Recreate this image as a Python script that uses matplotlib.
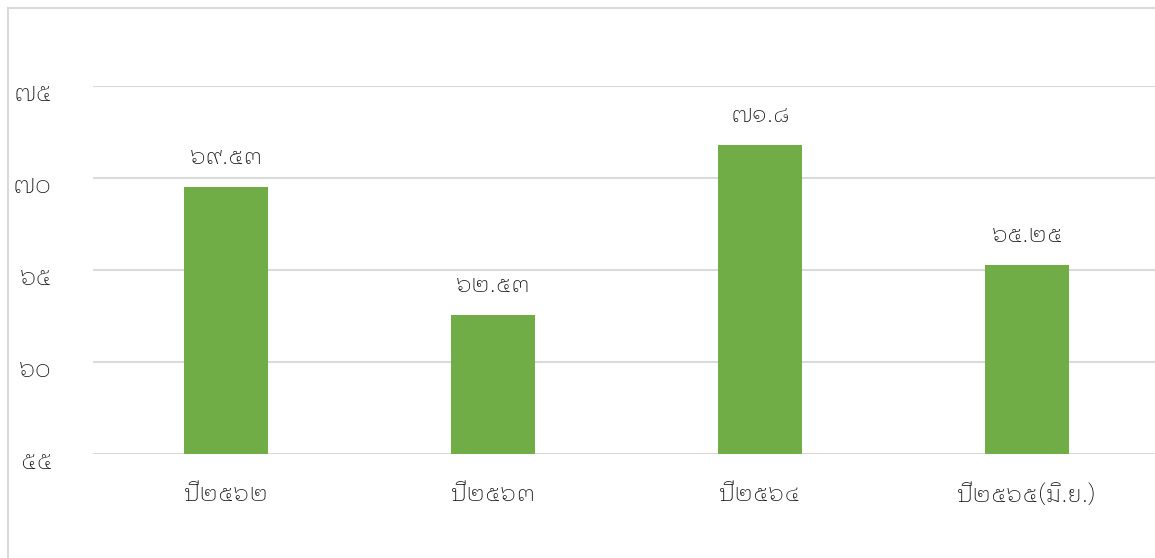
import matplotlib
matplotlib.use("Agg")
import matplotlib.pyplot as plt
from matplotlib.lines import Line2D
import matplotlib.transforms as mtransforms

THAI_DIGITS = str.maketrans("0123456789", "๐๑๒๓๔๕๖๗๘๙")

categories = ["ปี๒๕๖๒", "ปี๒๕๖๓", "ปี๒๕๖๔", "ปี๒๕๖๕(มิ.ย.)"]
values = [69.53, 62.53, 71.8, 65.25]
value_labels = ["๖๙.๕๓", "๖๒.๕๓", "๗๑.๘", "๖๕.๒๕"]
y_ticks = [55, 60, 65, 70, 75]

FONT = ["IBM Plex Sans Thai Looped", "DejaVu Sans"]
FS = 17.5
WEIGHT = "light"
TEXT_COLOR = "#0d0d0d"
BAR_COLOR = "#70ad47"
GRID_COLOR = "#d9d9d9"
FRAME_COLOR = "#d9d9d9"

W, H = 1155, 558
fig = plt.figure(figsize=(W / 100, H / 100), dpi=100)

# chart frame: left and top edges
fig.add_artist(Line2D([7.5 / W, 7.5 / W], [0, 1 - 8 / H], transform=fig.transFigure,
                      color=FRAME_COLOR, lw=1.5))
fig.add_artist(Line2D([7.5 / W, 1], [1 - 8 / H, 1 - 8 / H], transform=fig.transFigure,
                      color=FRAME_COLOR, lw=1.5))

ax = fig.add_axes([92.5 / W, 1 - 454 / H, 1068 / W, 368 / H])
x = list(range(len(categories)))
bars = ax.bar(x, values, width=0.315, color=BAR_COLOR, zorder=3)

ax.set_xlim(-0.5, len(categories) - 0.5)
ax.set_ylim(55, 75)
ax.set_yticks(y_ticks)
ax.set_yticklabels([str(v).translate(THAI_DIGITS) for v in y_ticks], family=FONT,
                   fontsize=FS + 0.5, weight=WEIGHT, color=TEXT_COLOR)
ax.set_xticks(x)
ax.set_xticklabels(categories, family=FONT, fontsize=FS, weight=WEIGHT, color=TEXT_COLOR)
ax.tick_params(axis="y", length=0, pad=29)
ax.tick_params(axis="x", length=0, pad=21)

shift = mtransforms.ScaledTranslation(0, -6 / 100, fig.dpi_scale_trans)
for t in ax.get_yticklabels():
    t.set_transform(t.get_transform() + shift)

ax.grid(axis="y", color=GRID_COLOR, lw=1.5, zorder=0)
for s in ax.spines.values():
    s.set_visible(False)

for rect, lab in zip(bars, value_labels):
    ax.annotate(lab, (rect.get_x() + rect.get_width() / 2, rect.get_height()),
                xytext=(0, 13), textcoords="offset points", ha="center", va="bottom",
                family=FONT, fontsize=FS, weight=WEIGHT, color=TEXT_COLOR,
                annotation_clip=False)

fig.savefig("out.png", dpi=100)
